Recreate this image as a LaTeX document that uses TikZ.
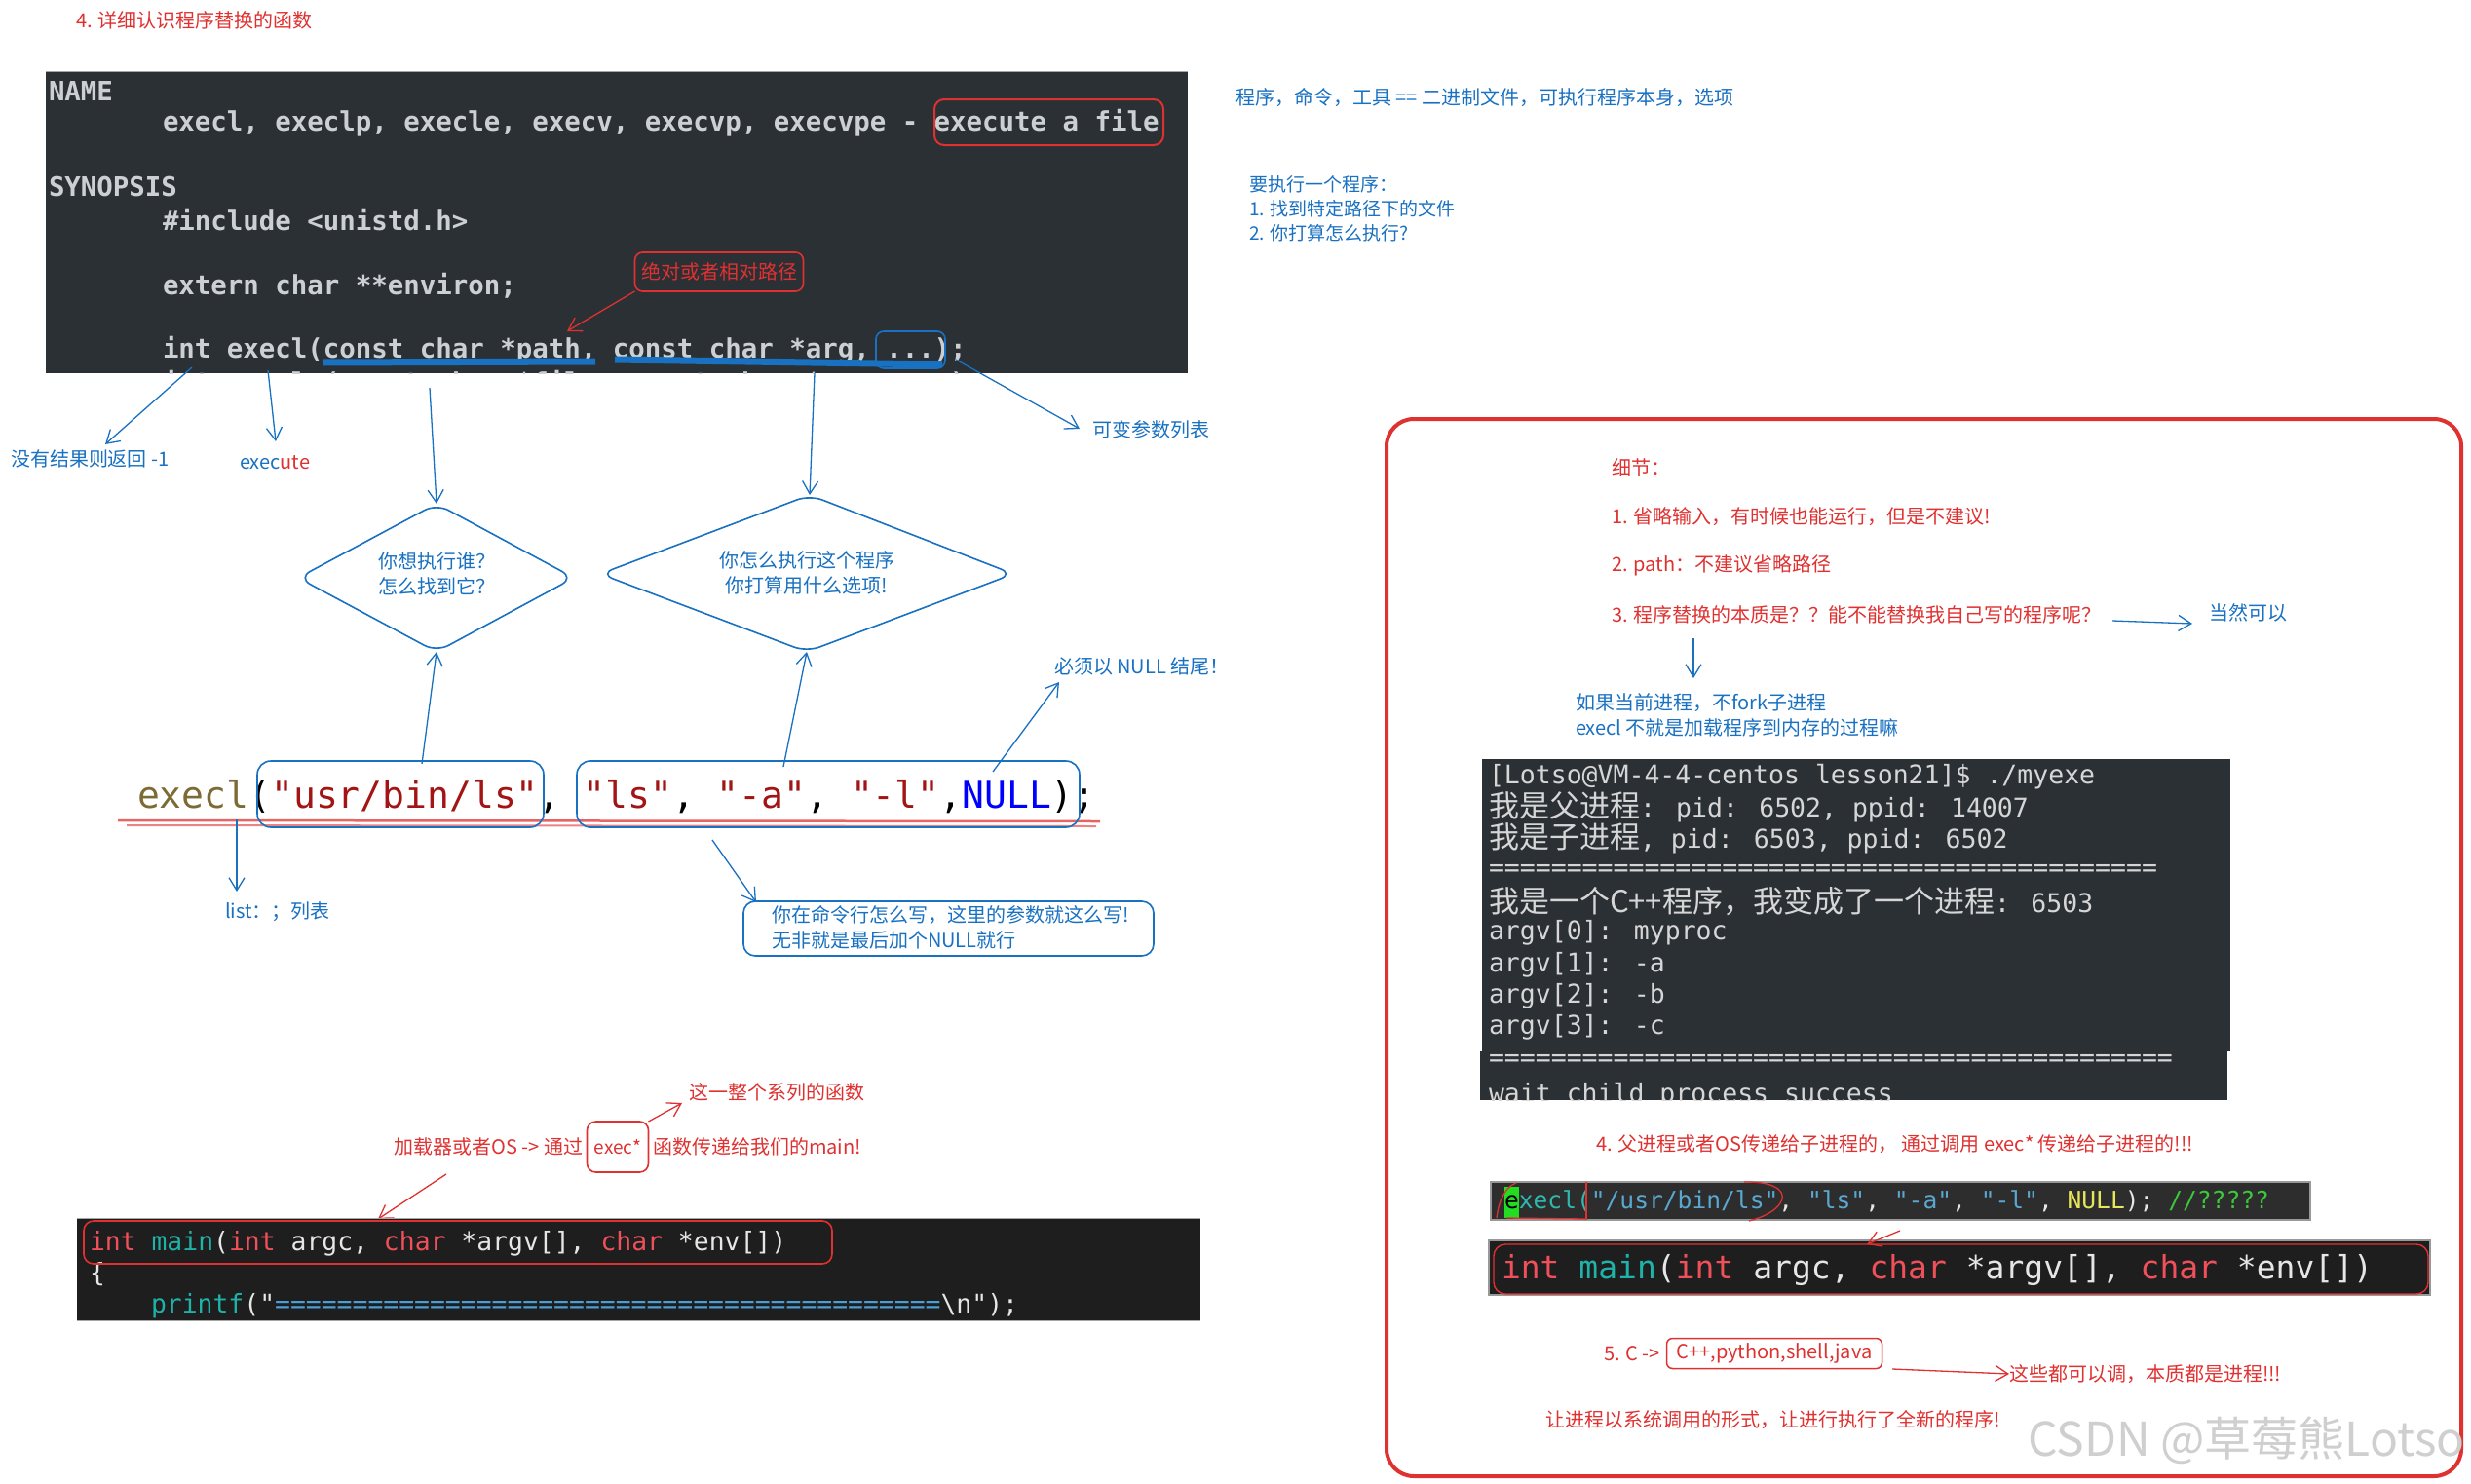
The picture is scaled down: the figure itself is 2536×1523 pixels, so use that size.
\documentclass[tikz,border=0pt]{standalone}
\usepackage{fontspec}
\setmainfont{Noto Sans CJK SC}
\newfontfamily\cjk{Noto Sans CJK SC}
\newfontfamily\mono{DejaVu Sans Mono}
\usetikzlibrary{arrows.meta}
\definecolor{exblue}{HTML}{1971C2}
\definecolor{exred}{HTML}{E03131}
\definecolor{darkA}{HTML}{2B3035}
\definecolor{darkB}{HTML}{1E1E1E}
\definecolor{barbg}{HTML}{2D2D2D}
\definecolor{mtext}{HTML}{CDD0D3}
\definecolor{ttext}{HTML}{D6D6D6}
\definecolor{ctext}{HTML}{E6E6E6}
\definecolor{kwred}{HTML}{F0505A}
\definecolor{kwteal}{HTML}{1FB2A8}
\definecolor{eqblue}{HTML}{4A9FD8}
\definecolor{fnbrown}{HTML}{7D6B35}
\definecolor{strred}{HTML}{A31515}
\definecolor{nullblue}{HTML}{0000FF}
\definecolor{bstr}{HTML}{5AA8D0}
\definecolor{bteal}{HTML}{2FB8B0}
\definecolor{byel}{HTML}{E6E65A}
\definecolor{bgreen}{HTML}{3CC83C}
\definecolor{cursor}{HTML}{22DD22}
\definecolor{wm}{HTML}{CFCFCF}
\newcommand{\fsz}[2]{\fontsize{#1}{#2}\selectfont}
\newcommand{\tc}{\cjk\fsz{31}{32}}
\tikzset{
  every node/.style={inner sep=0pt, outer sep=0pt},
  annb/.style={font=\fsz{20}{28}, anchor=west, text=exblue, align=left},
  annr/.style={font=\fsz{20}{28}, anchor=west, text=exred, align=left},
  barb/.style={-{Straight Barb[length=13pt,width=16pt,line width=1.3pt]}},
  barrow/.style={draw=exblue, line width=1.3pt, barb},
  rarrow/.style={draw=exred, line width=1.3pt, barb},
  manl/.style={font=\mono\bfseries\fsz{27.4}{33}, text=mtext, anchor=west},
  terml/.style={font=\mono\fsz{26.5}{32}, text=ttext, anchor=west},
  bigcode/.style={font=\mono\fsz{38}{40}, anchor=west},
  codetwo/.style={font=\mono\fsz{26.4}{32}, text=ctext, anchor=west},
  codebar/.style={font=\mono\fsz{24.6}{28}, text=ctext, anchor=west},
  codemain/.style={font=\mono\fsz{33}{36}, text=ctext, anchor=west},
  bbox/.style={draw=exblue, line width=1.6pt, rounded corners=14pt},
  rbox/.style={draw=exred, line width=1.6pt, rounded corners=10pt},
  dia/.style={draw=exblue, line width=1.6pt, rounded corners=14pt},
}
\begin{document}
\begin{tikzpicture}[x=1pt,y=-1pt]
\useasboundingbox (0,0) rectangle (2536,1523);
\fill[white] (0,0) rectangle (2536,1523);

% ---------- title ----------
\node[annr] (title) at (78,21) {4. 详细认识程序替换的函数};

% ---------- man page ----------
\fill[darkA] (47,73) rectangle (1219,383);
\draw[gray!70, line width=1pt] (47,73) -- (1219,73);
\begin{scope}
\clip (47,73) rectangle (1219,383);
\node[manl] (mName) at (50,94) {NAME};
\node[manl] (mExec) at (167,126) {execl, execlp, execle, execv, execvp, execvpe - execute a file};
\node[manl] (mSyn) at (50,192) {SYNOPSIS};
\node[manl] (mInc) at (167,226) {\#include <unistd.h>};
\node[manl] (mEnv) at (167,293) {extern char **environ;};
\node[manl] (mExecl) at (167,359) {int execl(const char *path, const char *arg, ...);};
\node[manl] (mExeclp) at (167,394) {int execlp(const char *file, const char *arg, ...);};
\end{scope}
\draw[rbox, line width=2pt] (959,102) rectangle (1194,149);
\draw[exblue, line width=7pt] (331,372) -- (611,371);
\draw[exblue, line width=7pt] (631,369) -- (967,374);
\draw[bbox, rounded corners=8pt] (899,340) rectangle (970,378);

% red path note
\node[draw=exred, line width=1.6pt, rounded corners=8pt, minimum width=173pt, minimum height=40pt,
      font=\fsz{20}{22}, text=exred] (absrel) at (738,279) {绝对或者相对路径};
\coordinate (pathpt) at (582,340);
\draw[rarrow] (absrel.south west) -- (pathpt);

% ---------- arrows from man page ----------
\coordinate (retsrc) at (197,377);
\coordinate (execsrc) at (275,380);
\coordinate (pathsrc) at (441,398);
\coordinate (argsrc) at (836,383);
\coordinate (dotsrc) at (981,369);
\node[annb] (retlbl) at (11,471) {没有结果则返回 -1};
\node[annb] (exelbl) at (246,475) {exec{\color{exred}ute}};
\node[annb] (varlbl) at (1121,441) {可变参数列表};
\draw[barrow] (retsrc) -- (108,456);
\draw[barrow] (execsrc) -- (283,453);
\draw[barrow] (dotsrc) -- (1108,440);

% ---------- diamonds ----------
\coordinate (d1t) at (448,517);
\coordinate (d1b) at (448,669);
\coordinate (d2t) at (831,508);
\coordinate (d2b) at (828,669);
\draw[dia] (d1t) -- (589,593) -- (d1b) -- (306,593) -- cycle;
\draw[dia] (d2t) -- (1040,589) -- (d2b) -- (616,589) -- cycle;
\node[annb, anchor=center, align=center, font=\fsz{20}{26}] (d1txt) at (448,589) {你想执行谁？\\怎么找到它？};
\node[annb, anchor=center, align=center, font=\fsz{20}{26}] (d2txt) at (828,588) {你怎么执行这个程序\\你打算用什么选项!};
\draw[barrow] (pathsrc) -- (d1t);
\draw[barrow] (argsrc) -- (d2t);

% ---------- execl example ----------
\node[bigcode] (execlEx) at (141,818) {{\color{fnbrown}execl}({\color{strred}"usr/bin/ls"}, {\color{strred}"ls"}, {\color{strred}"-a"}, {\color{strred}"-l"},{\color{nullblue}NULL});};
\draw[exred, line width=2.5pt, opacity=.75] (121,842) -- (1129,843);
\draw[exred, line width=2pt, opacity=.6] (130,847) -- (1125,848);
\draw[bbox] (264,781) rectangle (558,849);
\draw[bbox] (592,781) rectangle (1108,849);
\coordinate (pathbox) at (433,784);
\coordinate (argbox) at (804,787);
\coordinate (nullpt) at (1019,792);
\draw[barrow] (pathbox) -- (d1b);
\draw[barrow] (argbox) -- (d2b);
\node[annb] (nulllbl) at (1082,684) {必须以 NULL 结尾！};
\draw[barrow] (nullpt) -- (1087,700);

\coordinate (lsrc) at (243,841);
\node[annb] (listlbl) at (231,936) {list：；列表};
\draw[barrow] (lsrc) -- (243,915);

\coordinate (argsrc2) at (731,862);
\draw[bbox, rounded corners=12pt] (763,925) rectangle (1184,981);
\node[annb, font=\fsz{20}{26}] (cmdtxt) at (792,952) {你在命令行怎么写，这里的参数就这么写!\\无非就是最后加个NULL就行};
\draw[barrow] (argsrc2) -- (776,926);

% ---------- loader note ----------
\node[draw=exred, line width=1.6pt, rounded corners=9pt, minimum width=63pt, minimum height=52pt,
      font=\fsz{19}{20}, text=exred] (execbox) at (634,1177) {exec*};
\node[annr, anchor=east] (loadtxt) at (598,1177) {加载器或者OS -> 通过};
\node[annr] (passtxt) at (670,1177) {函数传递给我们的main!};
\node[annr] (series) at (707,1121) {这一整个系列的函数};
\draw[rarrow] (execbox.north east) -- (700,1132);
\coordinate (loadsrc) at (458,1205);
\draw[rarrow] (loadsrc) -- (388,1251);

% ---------- code box (left bottom) ----------
\fill[darkB] (79,1250) rectangle (1232,1355);
\draw[gray!70, line width=1pt] (79,1250) -- (1232,1250);
\draw[gray!70, line width=1pt] (79,1355) -- (1232,1355);
\node[codetwo] (mainL) at (92,1276) {{\color{kwred}int} {\color{kwteal}main}({\color{kwred}int} argc, {\color{kwred}char} *argv[], {\color{kwred}char} *env[])};
\node[codetwo] (braceL) at (92,1308) {\{};
\node[codetwo] (printfL) at (155,1340) {{\color{kwteal}printf}("{\color{eqblue}===========================================}\textbackslash n");};
\draw[rbox] (86,1253) rectangle (854,1297);

% ---------- right notes ----------
\node[annb] (progtxt) at (1268,100) {程序，命令，工具 == 二进制文件，可执行程序本身，选项};
\node[annb, font=\fsz{19}{25}] (needtxt) at (1282,214) {要执行一个程序：\\1. 找到特定路径下的文件\\2. 你打算怎么执行?};

% ---------- red frame ----------
\draw[exred, line width=4pt, rounded corners=28pt] (1423,430) rectangle (2526,1515);

\node[annr] (detail) at (1654,480) {细节：};
\node[annr] (d1) at (1654,530) {1. 省略输入，有时候也能运行，但是不建议!};
\node[annr] (d2) at (1654,580) {2. path：不建议省略路径};
\node[annr] (d3) at (1654,631) {3. 程序替换的本质是？？能不能替换我自己写的程序呢？};
\node[annb] (sure) at (2267,629) {当然可以};
\coordinate (d3r) at (2168,637);
\draw[barrow] (d3r) -- (2250,640);
\coordinate (d3down) at (1738,655);
\draw[barrow] (d3down) -- (1738,696);
\node[annb, font=\fsz{20}{26}] (forktxt) at (1617,734) {如果当前进程，不fork子进程\\execl 不就是加载程序到内存的过程嘛};

% terminal
\fill[darkA] (1521,779) rectangle (2289,1079);
\fill[darkA] (1519,1079) rectangle (2286,1129);
\begin{scope}
\clip (1521,779) rectangle (2289,1079) (1519,1079) rectangle (2286,1129);
\node[terml] (t1) at (1528,797) {[Lotso@VM-4-4-centos lesson21]\$ ./myexe};
\node[terml] (t2) at (1528,828) {{\tc 我是父进程}: pid: 6502, ppid: 14007};
\node[terml] (t3) at (1528,860) {{\tc 我是子进程}, pid: 6503, ppid: 6502};
\node[terml] (t4) at (1528,893) {===========================================};
\node[terml] (t5) at (1528,925) {{\tc 我是一个C++程序，我变成了一个进程}: 6503};
\node[terml] (t6) at (1528,957) {argv[0]: myproc};
\node[terml] (t7) at (1528,990) {argv[1]: -a};
\node[terml] (t8) at (1528,1022) {argv[2]: -b};
\node[terml] (t9) at (1528,1054) {argv[3]: -c};
\node[terml] (t10) at (1528,1088) {============================================};
\node[terml] (t11) at (1528,1124) {wait child process success};
\end{scope}

\node[annr] (n4) at (1638,1174) {4. 父进程或者OS传递给子进程的， 通过调用 exec* 传递给子进程的!!!};

% execl bar
\fill[barbg] (1530,1213) rectangle (2371,1252);
\draw[gray!80, line width=1.2pt] (1530,1213) rectangle (2371,1252);
\fill[cursor] (1544,1218) rectangle (1559,1250);
\node[codebar] (barL) at (1544,1233) {{\color{black}e}{\color{bteal}xecl(}{\color{bstr}"/usr/bin/ls"}, {\color{bstr}"ls"}, {\color{bstr}"-a"}, {\color{bstr}"-l"}, {\color{byel}NULL}); {\color{bgreen}//?????}};
\draw[exred, line width=1.3pt] (1536,1250) .. controls (1538,1232) and (1545,1218) .. (1556,1214);
\draw[exred, line width=1.3pt] (1546,1250) -- (1628,1251);
\draw[exred, line width=1.3pt] (1628,1213) -- (1628,1252);
\draw[exred, line width=1.3pt] (1790,1213) .. controls (1845,1212) and (1838,1242) .. (1795,1253);

% main bar
\fill[darkB] (1528,1273) rectangle (2494,1329);
\draw[gray!80, line width=1.2pt] (1528,1273) rectangle (2494,1329);
\node[codemain] (mainR) at (1541,1303) {{\color{kwred}int} {\color{kwteal}main}({\color{kwred}int} argc, {\color{kwred}char} *argv[], {\color{kwred}char} *env[])};
\draw[rbox, rounded corners=12pt, line width=1.4pt] (1533,1277) rectangle (2492,1328);
\coordinate (barsrc) at (1950,1263);
\draw[rarrow] (barsrc) -- (1916,1277);

% 5.
\node[annr] (n5) at (1646,1389) {5. C ->};
\node[draw=exred, line width=1.5pt, rounded corners=6pt, minimum width=221pt, minimum height=31pt,
      font=\fsz{20}{22}, text=exred] (langbox) at (1821,1389) {C++,python,shell,java};
\node[annr] (allproc) at (2062,1410) {这些都可以调，本质都是进程!!!};
\coordinate (langout) at (1942,1405);
\draw[rarrow] (langout) -- (allproc.west);
\node[annr] (sysc) at (1586,1457) {让进程以系统调用的形式，让进行执行了全新的程序!};

% watermark
\node[font=\fsz{48}{50}, text=wm, anchor=west] (wmark) at (2081,1478) {CSDN @草莓熊Lotso};
\end{tikzpicture}
\end{document}
